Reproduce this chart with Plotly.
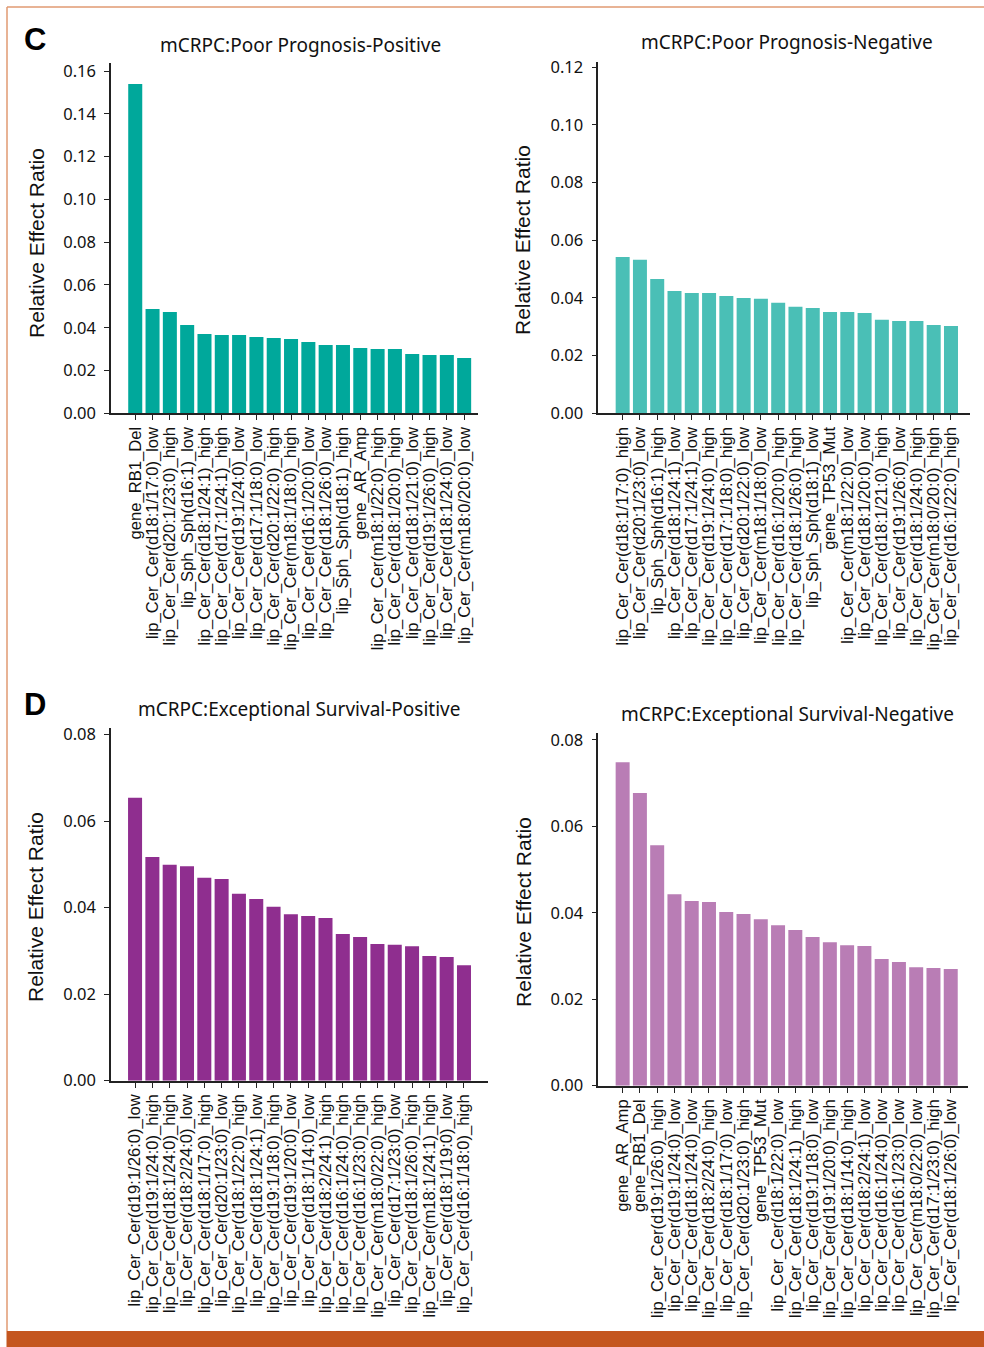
import plotly.graph_objects as go

W, H = 984, 1347

# panel C, left: poor prognosis, positive
pp_pos_labels = [
    "gene_RB1_Del",
    "lip_Cer_Cer(d18:1/17:0)_low",
    "lip_Cer_Cer(d20:1/23:0)_high",
    "lip_Sph_Sph(d16:1)_low",
    "lip_Cer_Cer(d18:1/24:1)_high",
    "lip_Cer_Cer(d17:1/24:1)_high",
    "lip_Cer_Cer(d19:1/24:0)_low",
    "lip_Cer_Cer(d17:1/18:0)_low",
    "lip_Cer_Cer(d20:1/22:0)_high",
    "lip_Cer_Cer(m18:1/18:0)_high",
    "lip_Cer_Cer(d16:1/20:0)_low",
    "lip_Cer_Cer(d18:1/26:0)_low",
    "lip_Sph_Sph(d18:1)_high",
    "gene_AR_Amp",
    "lip_Cer_Cer(m18:1/22:0)_high",
    "lip_Cer_Cer(d18:1/20:0)_high",
    "lip_Cer_Cer(d18:1/21:0)_low",
    "lip_Cer_Cer(d19:1/26:0)_high",
    "lip_Cer_Cer(d18:1/24:0)_low",
    "lip_Cer_Cer(m18:0/20:0)_low",
]
pp_pos_values = [0.1539, 0.0488, 0.0474, 0.0413, 0.0371, 0.0366, 0.0366, 0.0357, 0.0352, 0.0347,
                 0.0333, 0.0319, 0.0319, 0.0305, 0.0301, 0.0301, 0.0277, 0.0273, 0.0273, 0.0259]

# panel C, right: poor prognosis, negative
pp_neg_labels = [
    "lip_Cer_Cer(d18:1/17:0)_high",
    "lip_Cer_Cer(d20:1/23:0)_low",
    "lip_Sph_Sph(d16:1)_high",
    "lip_Cer_Cer(d18:1/24:1)_low",
    "lip_Cer_Cer(d17:1/24:1)_low",
    "lip_Cer_Cer(d19:1/24:0)_high",
    "lip_Cer_Cer(d17:1/18:0)_high",
    "lip_Cer_Cer(d20:1/22:0)_low",
    "lip_Cer_Cer(m18:1/18:0)_low",
    "lip_Cer_Cer(d16:1/20:0)_high",
    "lip_Cer_Cer(d18:1/26:0)_high",
    "lip_Sph_Sph(d18:1)_low",
    "gene_TP53_Mut",
    "lip_Cer_Cer(m18:1/22:0)_low",
    "lip_Cer_Cer(d18:1/20:0)_low",
    "lip_Cer_Cer(d18:1/21:0)_high",
    "lip_Cer_Cer(d19:1/26:0)_low",
    "lip_Cer_Cer(d18:1/24:0)_high",
    "lip_Cer_Cer(m18:0/20:0)_high",
    "lip_Cer_Cer(d16:1/22:0)_high",
]
pp_neg_values = [0.0542, 0.0532, 0.0466, 0.0424, 0.0417, 0.0417, 0.0407, 0.0400, 0.0397, 0.0383,
                 0.0369, 0.0365, 0.0351, 0.0351, 0.0348, 0.0324, 0.0320, 0.0320, 0.0306, 0.0303]

# panel D, left: exceptional survival, positive
es_pos_labels = [
    "lip_Cer_Cer(d19:1/26:0)_low",
    "lip_Cer_Cer(d19:1/24:0)_high",
    "lip_Cer_Cer(d18:1/24:0)_high",
    "lip_Cer_Cer(d18:2/24:0)_low",
    "lip_Cer_Cer(d18:1/17:0)_high",
    "lip_Cer_Cer(d20:1/23:0)_low",
    "lip_Cer_Cer(d18:1/22:0)_high",
    "lip_Cer_Cer(d18:1/24:1)_low",
    "lip_Cer_Cer(d19:1/18:0)_high",
    "lip_Cer_Cer(d19:1/20:0)_low",
    "lip_Cer_Cer(d18:1/14:0)_low",
    "lip_Cer_Cer(d18:2/24:1)_high",
    "lip_Cer_Cer(d16:1/24:0)_high",
    "lip_Cer_Cer(d16:1/23:0)_high",
    "lip_Cer_Cer(m18:0/22:0)_high",
    "lip_Cer_Cer(d17:1/23:0)_low",
    "lip_Cer_Cer(d18:1/26:0)_high",
    "lip_Cer_Cer(m18:1/24:1)_high",
    "lip_Cer_Cer(d18:1/19:0)_low",
    "lip_Cer_Cer(d16:1/18:0)_high",
]
es_pos_values = [0.0654, 0.0517, 0.0499, 0.0496, 0.0469, 0.0466, 0.0432, 0.0420, 0.0402, 0.0385,
                 0.0381, 0.0376, 0.0339, 0.0332, 0.0316, 0.0314, 0.0311, 0.0288, 0.0286, 0.0267]

# panel D, right: exceptional survival, negative
es_neg_labels = [
    "gene_AR_Amp",
    "gene_RB1_Del",
    "lip_Cer_Cer(d19:1/26:0)_high",
    "lip_Cer_Cer(d19:1/24:0)_low",
    "lip_Cer_Cer(d18:1/24:0)_low",
    "lip_Cer_Cer(d18:2/24:0)_high",
    "lip_Cer_Cer(d18:1/17:0)_low",
    "lip_Cer_Cer(d20:1/23:0)_high",
    "gene_TP53_Mut",
    "lip_Cer_Cer(d18:1/22:0)_low",
    "lip_Cer_Cer(d18:1/24:1)_high",
    "lip_Cer_Cer(d19:1/18:0)_low",
    "lip_Cer_Cer(d19:1/20:0)_high",
    "lip_Cer_Cer(d18:1/14:0)_high",
    "lip_Cer_Cer(d18:2/24:1)_low",
    "lip_Cer_Cer(d16:1/24:0)_low",
    "lip_Cer_Cer(d16:1/23:0)_low",
    "lip_Cer_Cer(m18:0/22:0)_low",
    "lip_Cer_Cer(d17:1/23:0)_high",
    "lip_Cer_Cer(d18:1/26:0)_low",
]
es_neg_values = [0.0748, 0.0677, 0.0556, 0.0443, 0.0427, 0.0425, 0.0402, 0.0397, 0.0385, 0.0371,
                 0.0360, 0.0344, 0.0332, 0.0325, 0.0323, 0.0293, 0.0286, 0.0274, 0.0272, 0.0270]

titles = [
    "mCRPC:Poor Prognosis-Positive",
    "mCRPC:Poor Prognosis-Negative",
    "mCRPC:Exceptional Survival-Positive",
    "mCRPC:Exceptional Survival-Negative",
]
colors = ["#00a89b", "#4abfb6", "#8f2e8f", "#b97db5"]


def px_x(v):
    return v / W


def px_y(v):
    return 1 - v / H


# (x0, x1, ytop, ybottom) in page pixels, x range, y max
panels = [
    dict(labels=pp_pos_labels, values=pp_pos_values, box=(111, 478, 63.3, 413.3), xr=[-1.4, 19.8], ymax=0.1636,
         title_xy=(300, 45), ylab_xy=(36, 243)),
    dict(labels=pp_neg_labels, values=pp_neg_values, box=(598.3, 970, 62, 413.3), xr=[-1.41, 20.1], ymax=0.1218,
         title_xy=(787, 42), ylab_xy=(523, 240)),
    dict(labels=es_pos_labels, values=es_pos_values, box=(111, 487.7, 727.7, 1080.7), xr=[-1.39, 20.37], ymax=0.0816,
         title_xy=(299, 709), ylab_xy=(36, 907)),
    dict(labels=es_neg_labels, values=es_neg_values, box=(598.3, 968, 733.3, 1085.7), xr=[-1.41, 20.0], ymax=0.0815,
         title_xy=(787, 714), ylab_xy=(523, 912)),
]

fig = go.Figure()
annotations = []
layout_axes = {}

for i, p in enumerate(panels):
    n = "" if i == 0 else str(i + 1)
    fig.add_trace(go.Bar(
        x=p["labels"], y=p["values"],
        marker=dict(color=colors[i], line=dict(width=0)),
        xaxis="x" + n, yaxis="y" + n,
        showlegend=False,
    ))
    x0, x1, yt, yb = p["box"]
    layout_axes["xaxis" + n] = dict(
        domain=[px_x(x0), px_x(x1)], anchor="y" + n, type="category",
        range=p["xr"], tickmode="linear", tick0=0, dtick=1, automargin=False,
        showgrid=False, zeroline=False,
        showline=True, linecolor="#222", linewidth=2,
        ticks="outside", ticklen=5, tickcolor="#222", tickwidth=1,
        tickangle=-90, tickfont=dict(family="Liberation Sans, Arial", size=16.6, color="#111"),
    )
    layout_axes["yaxis" + n] = dict(
        domain=[px_y(yb), px_y(yt)], anchor="x" + n,
        range=[0, p["ymax"]], dtick=0.02, tickformat=".2f", automargin=False,
        showgrid=False, zeroline=False,
        showline=True, linecolor="#222", linewidth=1.5,
        ticks="outside", ticklen=5, tickcolor="#222", tickwidth=1,
        ticklabelstandoff=5,
        tickfont=dict(family="Noto Sans, Arial", size=16.5, color="#111"),
    )
    tx, ty = p["title_xy"]
    annotations.append(dict(
        text=titles[i], x=px_x(tx), y=px_y(ty), xref="paper", yref="paper",
        xanchor="center", yanchor="middle", showarrow=False,
        font=dict(family="Noto Sans, Arial", size=19, color="#111"),
    ))
    lx, ly = p["ylab_xy"]
    annotations.append(dict(
        text="Relative Effect Ratio", x=px_x(lx), y=px_y(ly), xref="paper", yref="paper",
        xanchor="center", yanchor="middle", showarrow=False, textangle=-90,
        font=dict(family="Liberation Sans, Arial", size=21, color="#111"),
    ))

# panel letters
for letter, ly in [("C", 40), ("D", 704)]:
    annotations.append(dict(
        text="<b>" + letter + "</b>", x=px_x(35), y=px_y(ly), xref="paper", yref="paper",
        xanchor="center", yanchor="middle", showarrow=False,
        font=dict(family="Liberation Sans, Arial", size=31, color="#000"),
    ))

# journal frame
frame = "#e09a72"
shapes = [
    dict(type="line", xref="paper", yref="paper", x0=px_x(7), x1=1, y0=px_y(7), y1=px_y(7),
         line=dict(color=frame, width=1.5)),
    dict(type="line", xref="paper", yref="paper", x0=px_x(7), x1=px_x(7), y0=px_y(7), y1=px_y(1331),
         line=dict(color=frame, width=1.5)),
    dict(type="rect", xref="paper", yref="paper", x0=px_x(6.5), x1=1, y0=px_y(1331), y1=0,
         fillcolor="#c4561f", line=dict(width=0)),
]

fig.update_layout(
    width=W, height=H,
    margin=dict(l=0, r=0, t=0, b=0, pad=0, autoexpand=False),
    paper_bgcolor="white", plot_bgcolor="white",
    bargap=0.19,
    annotations=annotations,
    shapes=shapes,
    **layout_axes,
)

fig.write_html("out.html", config={"displayModeBar": False},
               post_script="document.body.style.margin='0';")
